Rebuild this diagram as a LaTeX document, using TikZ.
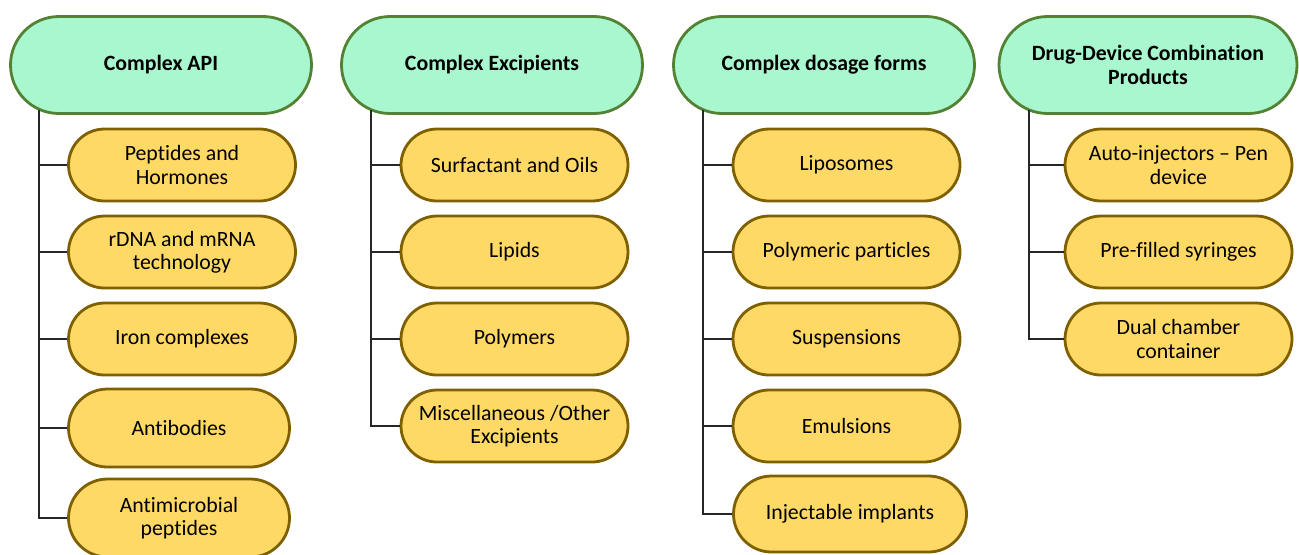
\documentclass[tikz,border=0pt]{standalone}
\usepackage{fontspec}
\setmainfont{Carlito}[Ligatures=NoCommon]
\usetikzlibrary{shapes.misc}
\definecolor{headgreen}{RGB}{168,247,206}
\definecolor{headedge}{RGB}{84,130,53}
\definecolor{itemyellow}{RGB}{255,217,102}
\definecolor{itemedge}{RGB}{127,96,0}

\tikzset{
  head/.style={rounded rectangle, draw=headedge, fill=headgreen, line width=1.4pt,
    minimum width=154.5pt, minimum height=48.5pt, inner sep=2pt, align=center,
    font=\fontsize{10.9}{11.6}\selectfont\bfseries},
  item/.style={rounded rectangle, draw=itemedge, fill=itemyellow, line width=1.4pt,
    minimum width=117.5pt, minimum height=36pt, inner sep=2pt, align=center,
    font=\fontsize{10.9}{11.6}\selectfont},
  link/.style={draw=black!85, line width=1pt}
}

\begin{document}
\begin{tikzpicture}[x=0.5pt,y=-0.5pt]
\useasboundingbox (0,0) rectangle (1299,554);

% Complex API
\node[head] (api) at (161,65) {Complex API};
\node[item] (apiA) at (182,165) {Peptides and\\Hormones};
\node[item] (apiB) at (182,252) {rDNA and mRNA\\technology};
\node[item] (apiC) at (182,339) {Iron complexes};
\node[item, minimum width=114.5pt, minimum height=39pt] (apiD) at (179,428) {Antibodies};
\node[item, minimum width=114.5pt, minimum height=39pt] (apiE) at (179,518) {Antimicrobial\\peptides};
\coordinate (apiT) at ([xshift=15pt,yshift=2.5pt]api.west |- api.south);
\foreach \n in {apiA,apiB,apiC,apiD,apiE}
  \draw[link] (apiT) |- (\n.west);

% Complex Excipients
\node[head] (exc) at (492,65) {Complex Excipients};
\node[item] (excA) at (514.5,165) {Surfactant and Oils};
\node[item] (excB) at (514.5,252) {Lipids};
\node[item] (excC) at (514.5,339) {Polymers};
\node[item] (excD) at (514.5,426) {Miscellaneous /Other\\Excipients};
\coordinate (excT) at ([xshift=15.5pt,yshift=2.5pt]exc.west |- exc.south);
\foreach \n in {excA,excB,excC,excD}
  \draw[link] (excT) |- (\n.west);

% Complex dosage forms
\node[head] (dos) at (824,65) {Complex dosage forms};
\node[item] (dosA) at (846.5,165) {Liposomes};
\node[item] (dosB) at (846.5,252) {Polymeric particles};
\node[item] (dosC) at (846.5,339) {Suspensions};
\node[item] (dosD) at (846.5,426) {Emulsions};
\node[item, minimum width=120.5pt, minimum height=38pt] (dosE) at (850,514) {Injectable implants};
\coordinate (dosT) at ([xshift=15.5pt,yshift=2.5pt]dos.west |- dos.south);
\foreach \n in {dosA,dosB,dosC,dosD,dosE}
  \draw[link] (dosT) |- (\n.west);

% Drug-Device Combination Products
\node[head, minimum width=153pt] (dev) at (1148,65) {Drug-Device Combination\\Products};
\node[item] (devA) at (1178.5,165) {Auto-injectors -- Pen\\device};
\node[item] (devB) at (1178.5,252) {Pre-filled syringes};
\node[item] (devC) at (1178.5,339) {Dual chamber\\container};
\coordinate (devT) at ([xshift=15.5pt,yshift=2.5pt]dev.west |- dev.south);
\foreach \n in {devA,devB,devC}
  \draw[link] (devT) |- (\n.west);

\end{tikzpicture}
\end{document}
